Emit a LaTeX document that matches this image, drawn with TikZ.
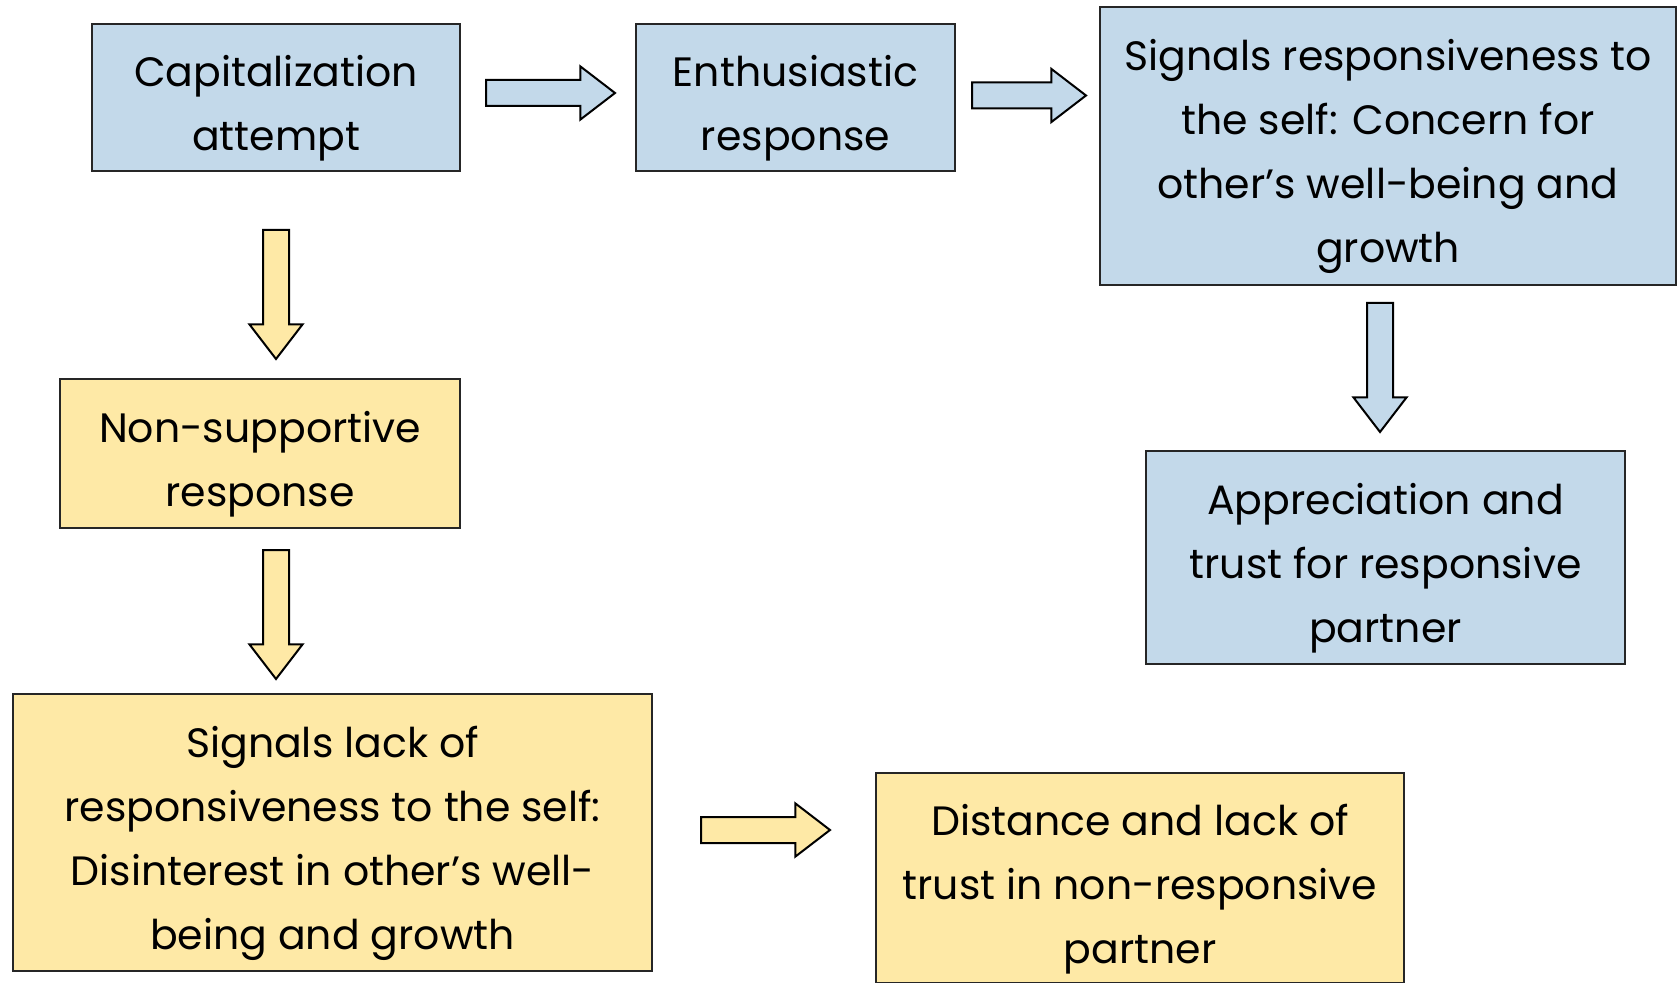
\documentclass[tikz,border=0pt]{standalone}
\usepackage{fontspec}
\setmainfont{Poppins}
\usetikzlibrary{shapes.arrows}
\definecolor{boxblue}{HTML}{C3D9EA}
\definecolor{boxyellow}{HTML}{FEE9A6}
\newcommand{\topgap}{\rule{0pt}{26.5pt}}
\tikzset{
  box/.style={draw=black!85, line width=1pt, align=center, inner sep=0pt,
    font=\fontsize{20.5}{32}\selectfont},
  bluebox/.style={box, fill=boxblue},
  yellowbox/.style={box, fill=boxyellow},
  blockarrow/.style={single arrow, draw=black, line width=1pt, inner sep=6pt, anchor=tail,
    single arrow head extend=6.75pt, single arrow tip angle=75, minimum height=64.5pt},
}
\begin{document}
\begin{tikzpicture}[x=0.5pt,y=-0.5pt]
        \useasboundingbox (0,0) rectangle (1679,983);
        % Supportive path
            \node[bluebox, minimum width=184pt, minimum height=73.5pt] (capattempt) at (276,97.5) {\topgap Capitalization\\attempt};
            \node[bluebox, minimum width=159.5pt, minimum height=73.5pt] (enthusiastic) at (795.5,97.5) {\topgap Enthusiastic\\response};
            \node[bluebox, minimum width=288pt, minimum height=139pt] (signalsresp) at (1388,146) {\topgap Signals responsiveness to\\the self: Concern for\\other’s well-being and\\growth};
            \node[bluebox, minimum width=239.5pt, minimum height=106.5pt] (appreciation) at (1385.5,557.5) {\topgap Appreciation and\\trust for responsive\\partner};
        % Non-supportive path
            \node[yellowbox, minimum width=200pt, minimum height=74.5pt] (nonsupport) at (260,453.5) {\topgap Non-supportive\\response};
            \node[yellowbox, minimum width=319.5pt, minimum height=138.5pt] (signalslack) at (332.5,832.5) {\topgap Signals lack of\\responsiveness to the self:\\Disinterest in other’s well-\\being and growth};
            \node[yellowbox, minimum width=264pt, minimum height=105pt] (distance) at (1140,878) {\topgap Distance and lack of\\trust in non-responsive\\partner};
        % Block arrows
            \node[blockarrow, fill=boxblue] (arrcapenth) at (485,93) {};
            \node[blockarrow, fill=boxblue, minimum height=57pt] (arrenthsig) at (971,95.5) {};
            \node[blockarrow, fill=boxblue, shape border rotate=270] (arrsigapp) at (1380,302) {};
            \node[blockarrow, fill=boxyellow, shape border rotate=270] (arrcapnon) at (276,229) {};
            \node[blockarrow, fill=boxyellow, shape border rotate=270] (arrnonlack) at (276,549) {};
            \node[blockarrow, fill=boxyellow] (arrlackdist) at (700,830) {};
\end{tikzpicture}
\end{document}
